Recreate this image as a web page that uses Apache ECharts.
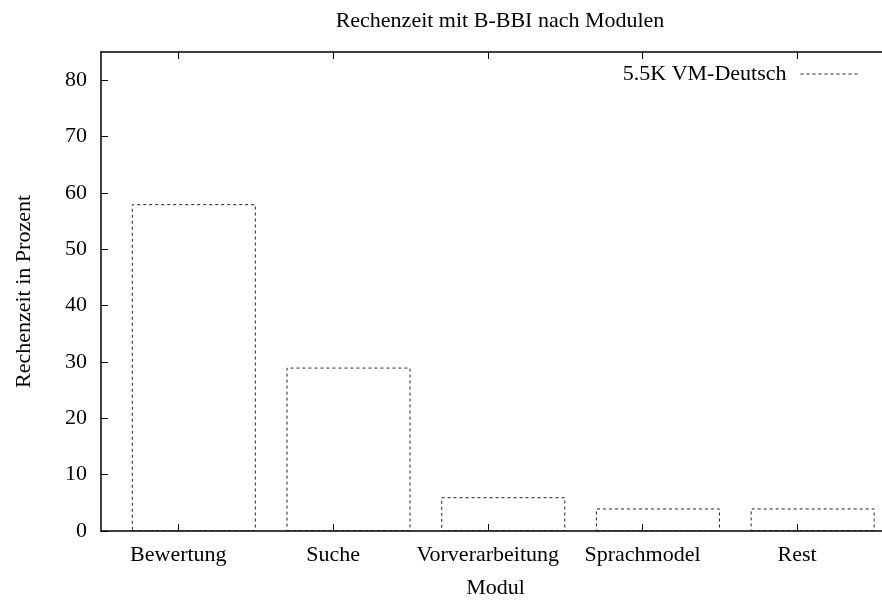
<!DOCTYPE html>
<html>
<head>
<meta charset="utf-8">
<script src="https://cdn.jsdelivr.net/npm/echarts@6/dist/echarts.min.js"></script>
<style>
    html, body { margin: 0; padding: 0; background: #fff; }
    #main { width: 882px; height: 601px; }
</style>
</head>
<body>
<div id="main"></div>
<script>
// data
const modules = ['Bewertung', 'Suche', 'Vorverarbeitung', 'Sprachmodel', 'Rest']
const percent = [58, 29, 6, 4, 4]
const yTicks = [0, 10, 20, 30, 40, 50, 60, 70, 80]
const seriesName = '5.5K VM-Deutsch'

const font = '"Liberation Serif", "Times New Roman", serif'
const tickPos = modules.map((m, i) => i)
// gnuplot draws the boxes a little right of the tick
const shift = 0.1

let myChart = echarts.init(document.getElementById('main'))
let option = {
    animation: false,
    title: {
        text: 'Rechenzeit mit B-BBI nach Modulen',
        left: 495,
        textAlign: 'center',
        top: 5,
        textStyle: { fontFamily: font, fontSize: 22, fontWeight: 'normal', color: '#000' }
    },
    legend: {
        right: 17,
        top: 58,
        align: 'right',
        // dashed line sample, gnuplot style
        icon: 'path://M0,0L0,0M0,5L60,5M60,10L60,10',
        itemWidth: 59,
        itemHeight: 10,
        itemStyle: {
            color: 'rgba(0,0,0,0)',
            borderColor: '#222',
            borderWidth: 1,
            borderType: [3, 3]
        },
        textStyle: { fontFamily: font, fontSize: 22, color: '#000', padding: [0, 9, 0, 0] },
        data: [seriesName]
    },
    grid: {
        left: 101,
        top: 52,
        right: -8,
        bottom: 70,
        containLabel: false,
        outerBoundsMode: 'none'
    },
    xAxis: [
        {
            type: 'value',
            min: -0.5,
            max: 4.6,
            splitLine: { show: false },
            axisLine: { onZero: false, lineStyle: { color: '#000', width: 1.5 } },
            axisTick: { inside: true, length: 7, customValues: tickPos, lineStyle: { color: '#000' } },
            axisLabel: {
                customValues: tickPos,
                formatter: v => modules[Math.round(v)],
                fontFamily: font, fontSize: 22, color: '#000', margin: 13
            },
            name: 'Modul',
            nameLocation: 'middle',
            nameGap: 46,
            nameTextStyle: { fontFamily: font, fontSize: 22, color: '#000' }
        },
        {
            type: 'value',
            position: 'top',
            min: -0.5,
            max: 4.6,
            splitLine: { show: false },
            axisLine: { show: true, onZero: false, lineStyle: { color: '#000', width: 1.5 } },
            axisTick: { inside: true, length: 7, customValues: tickPos, lineStyle: { color: '#000' } },
            axisLabel: { show: false }
        }
    ],
    yAxis: {
        type: 'value',
        min: 0,
        max: 85,
        splitLine: { show: false },
        axisLine: { show: true, onZero: false, lineStyle: { color: '#000', width: 1.5 } },
        axisTick: { inside: true, length: 7, customValues: yTicks, lineStyle: { color: '#000' } },
        axisLabel: {
            customValues: yTicks,
            fontFamily: font, fontSize: 22, color: '#000', margin: 14
        },
        name: 'Rechenzeit in Prozent',
        nameLocation: 'middle',
        nameGap: 66,
        nameTextStyle: { fontFamily: font, fontSize: 22, color: '#000' }
    },
    series: [
        {
            name: seriesName,
            type: 'bar',
            barWidth: 124,
            data: percent.map((v, i) => [i + shift, v]),
            itemStyle: {
                color: 'rgba(0,0,0,0)',
                borderColor: '#222',
                borderWidth: 1,
                borderType: [3, 3]
            },
            emphasis: { disabled: true }
        }
    ]
}
myChart.setOption(option)
</script>
</body>
</html>
